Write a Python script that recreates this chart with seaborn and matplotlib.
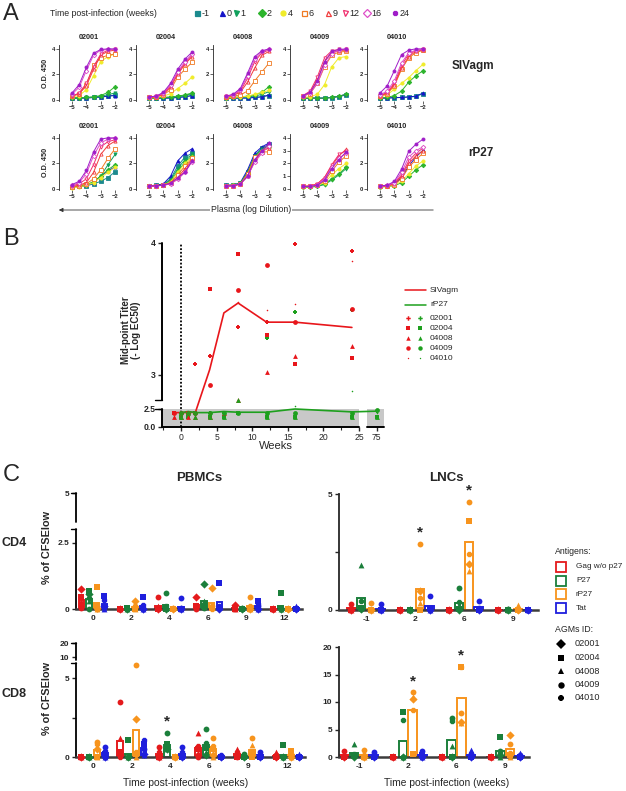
import numpy as np
import pandas as pd
import matplotlib.pyplot as plt
import seaborn as sns

sns.set_style('ticks')
plt.rcParams['font.family'] = ['Liberation Sans', 'DejaVu Sans']

W, H = 626, 791

# ---------------- Panel A data: O.D. 450 per plasma dilution ----------------
dilution = [-5, -4.5, -4, -3.5, -3, -2.5, -2]
animals = ['02001', '02004', '04008', '04009', '04010']
weeks_a = [-1, 0, 1, 2, 4, 6, 9, 12, 16, 24]

sivagm_02001 = {
    -1: [0.15, 0.15, 0.17, 0.2, 0.22, 0.3, 0.4],
    0: [0.15, 0.15, 0.15, 0.2, 0.25, 0.3, 0.35],
    1: [0.15, 0.16, 0.2, 0.22, 0.3, 0.42, 0.55],
    2: [0.15, 0.16, 0.2, 0.25, 0.35, 0.6, 1.05],
    4: [0.25, 0.35, 0.8, 1.9, 3.0, 3.4, 3.6],
    6: [0.3, 0.5, 1.2, 2.7, 3.3, 3.5, 3.6],
    9: [0.3, 0.5, 1.1, 2.4, 3.5, 3.8, 3.9],
    12: [0.3, 0.55, 1.3, 2.6, 3.6, 3.9, 3.95],
    16: [0.45, 1.0, 2.3, 3.5, 3.9, 3.95, 3.95],
    24: [0.55, 1.2, 2.55, 3.65, 3.95, 4.0, 4.0],
}
sivagm_02004 = {
    -1: [0.15, 0.15, 0.15, 0.17, 0.2, 0.27, 0.35],
    0: [0.15, 0.15, 0.15, 0.15, 0.2, 0.25, 0.35],
    1: [0.15, 0.15, 0.16, 0.2, 0.25, 0.35, 0.5],
    2: [0.15, 0.15, 0.2, 0.25, 0.3, 0.4, 0.55],
    4: [0.15, 0.2, 0.3, 0.5, 0.9, 1.3, 1.8],
    6: [0.2, 0.25, 0.4, 0.8, 1.8, 2.4, 2.95],
    9: [0.2, 0.25, 0.45, 1.0, 2.0, 2.8, 3.4],
    12: [0.2, 0.3, 0.5, 1.1, 2.1, 2.9, 3.5],
    16: [0.25, 0.3, 0.55, 1.2, 2.2, 3.0, 3.6],
    24: [0.25, 0.3, 0.6, 1.3, 2.4, 3.2, 3.75],
}
sivagm_04008 = {
    -1: [0.15, 0.15, 0.15, 0.17, 0.2, 0.25, 0.35],
    0: [0.15, 0.15, 0.15, 0.15, 0.2, 0.25, 0.4],
    1: [0.15, 0.15, 0.2, 0.25, 0.3, 0.45, 0.65],
    2: [0.15, 0.2, 0.25, 0.3, 0.4, 0.6, 1.05],
    4: [0.15, 0.2, 0.25, 0.3, 0.45, 0.6, 0.75],
    6: [0.2, 0.3, 0.4, 0.7, 1.5, 2.2, 2.9],
    9: [0.25, 0.35, 0.6, 1.4, 2.5, 3.5, 3.8],
    12: [0.3, 0.4, 0.7, 1.7, 3.0, 3.7, 3.9],
    16: [0.3, 0.4, 0.8, 1.9, 3.2, 3.8, 3.95],
    24: [0.3, 0.45, 0.9, 2.1, 3.4, 3.85, 4.0],
}
sivagm_04009 = {
    -1: [0.15, 0.15, 0.15, 0.15, 0.18, 0.25, 0.4],
    0: [0.15, 0.15, 0.15, 0.15, 0.2, 0.3, 0.45],
    2: [0.15, 0.15, 0.15, 0.15, 0.2, 0.3, 0.45],
    4: [0.2, 0.25, 0.45, 1.2, 2.6, 3.3, 3.4],
    6: [0.3, 0.5, 1.3, 2.6, 3.5, 3.75, 3.8],
    9: [0.3, 0.6, 1.6, 3.0, 3.7, 3.85, 3.9],
    12: [0.35, 0.7, 1.8, 3.3, 3.85, 3.95, 3.95],
    16: [0.3, 0.55, 1.3, 2.7, 3.6, 3.9, 3.95],
    24: [0.35, 0.6, 1.5, 3.0, 3.8, 3.95, 4.0],
}
sivagm_04010 = {
    -1: [0.15, 0.15, 0.17, 0.2, 0.22, 0.28, 0.5],
    0: [0.15, 0.15, 0.2, 0.2, 0.25, 0.3, 0.55],
    2: [0.15, 0.2, 0.35, 0.7, 1.4, 1.9, 2.3],
    4: [0.25, 0.4, 0.85, 1.3, 1.75, 2.3, 2.8],
    6: [0.3, 0.5, 1.1, 2.4, 3.3, 3.7, 3.9],
    9: [0.3, 0.55, 1.2, 2.5, 3.4, 3.8, 3.9],
    12: [0.35, 0.6, 1.3, 2.7, 3.6, 3.85, 3.95],
    16: [0.4, 0.7, 1.5, 2.9, 3.7, 3.9, 3.95],
    24: [0.55, 1.1, 2.3, 3.55, 3.9, 4.0, 4.0],
}

rp27_02001 = {
    -1: [0.15, 0.2, 0.25, 0.4, 0.6, 0.9, 1.35],
    0: [0.15, 0.2, 0.3, 0.5, 1.0, 1.4, 1.75],
    1: [0.15, 0.2, 0.3, 0.5, 1.0, 1.9, 2.7],
    2: [0.15, 0.2, 0.3, 0.6, 1.0, 1.5, 1.9],
    4: [0.1, 0.15, 0.3, 0.5, 0.9, 1.3, 1.7],
    6: [0.15, 0.25, 0.4, 0.8, 1.5, 2.4, 3.15],
    9: [0.2, 0.3, 0.5, 1.3, 2.7, 3.4, 3.75],
    12: [0.25, 0.4, 0.8, 1.9, 3.3, 3.7, 3.85],
    16: [0.3, 0.5, 1.2, 2.6, 3.6, 3.9, 4.0],
    24: [0.35, 0.6, 1.45, 2.9, 3.9, 4.0, 4.0],
}
rp27_02004 = {
    -1: [0.25, 0.3, 0.35, 0.8, 1.8, 2.5, 2.8],
    0: [0.25, 0.3, 0.4, 1.0, 2.2, 2.8, 3.15],
    1: [0.2, 0.25, 0.35, 0.7, 1.6, 2.3, 2.7],
    2: [0.2, 0.25, 0.3, 0.6, 1.4, 2.1, 2.6],
    4: [0.2, 0.25, 0.3, 0.55, 1.3, 2.0, 2.5],
    6: [0.2, 0.25, 0.3, 0.5, 1.1, 1.8, 2.4],
    9: [0.2, 0.25, 0.3, 0.45, 0.9, 1.6, 2.3],
    12: [0.2, 0.25, 0.3, 0.4, 0.8, 1.4, 2.2],
    16: [0.2, 0.25, 0.3, 0.4, 0.75, 1.3, 2.15],
    24: [0.25, 0.25, 0.3, 0.45, 0.9, 1.3, 2.2],
}
rp27_04008 = {
    -1: [0.3, 0.3, 0.45, 1.3, 2.6, 3.2, 3.5],
    0: [0.3, 0.3, 0.5, 1.5, 2.8, 3.3, 3.6],
    1: [0.25, 0.3, 0.45, 1.3, 2.6, 3.1, 3.4],
    2: [0.25, 0.3, 0.45, 1.2, 2.5, 3.0, 3.3],
    4: [0.25, 0.3, 0.4, 1.1, 2.4, 3.0, 3.3],
    6: [0.2, 0.25, 0.4, 1.2, 2.5, 2.9, 2.9],
    9: [0.25, 0.25, 0.4, 1.0, 2.2, 3.0, 3.2],
    12: [0.25, 0.25, 0.4, 1.0, 2.2, 2.9, 3.3],
    16: [0.25, 0.25, 0.4, 1.0, 2.1, 2.8, 3.4],
    24: [0.25, 0.25, 0.4, 1.0, 2.3, 3.0, 3.6],
}
rp27_04009 = {
    1: [0.15, 0.15, 0.2, 0.35, 0.7, 1.1, 1.6],
    2: [0.15, 0.15, 0.25, 0.4, 0.8, 1.2, 1.7],
    4: [0.15, 0.2, 0.3, 0.5, 1.1, 1.6, 2.0],
    6: [0.2, 0.2, 0.3, 0.6, 1.4, 2.1, 2.6],
    9: [0.2, 0.25, 0.4, 0.9, 1.8, 2.6, 3.1],
    12: [0.2, 0.25, 0.4, 0.9, 1.9, 2.7, 3.0],
    16: [0.2, 0.2, 0.35, 0.8, 1.7, 2.4, 2.8],
    24: [0.2, 0.2, 0.3, 0.7, 1.6, 2.3, 2.9],
}
rp27_04010 = {
    0: [0.2, 0.25, 0.35, 0.9, 1.8, 2.5, 3.05],
    2: [0.15, 0.2, 0.25, 0.5, 1.0, 1.5, 1.9],
    4: [0.15, 0.2, 0.3, 0.6, 1.2, 1.8, 2.2],
    6: [0.2, 0.25, 0.35, 0.8, 1.7, 2.3, 2.8],
    9: [0.2, 0.25, 0.4, 1.0, 2.0, 2.6, 3.0],
    12: [0.2, 0.25, 0.45, 1.1, 2.2, 2.8, 3.2],
    16: [0.2, 0.3, 0.5, 1.3, 2.5, 3.0, 3.3],
    24: [0.25, 0.3, 0.6, 1.55, 2.95, 3.5, 3.9],
}

# ---------------- Panel B data: mid-point titer ----------------
weeks_b = [-1, 0, 1, 2, 4, 6, 8, 12, 16, 24, 75]
mean_sivagm = [2.0, 2.0, 2.0, 2.05, 3.04, 3.47, 3.545, 3.40, 3.40, 3.36, np.nan]
mean_rp27 = [np.nan, 2.0, 2.15, 2.0, 2.0, 2.15, 2.05, 2.05, 2.5, 2.1, 2.2]
titer_sivagm = {
    '02001': [2.0, 2.0, 1.4, 3.08, 3.14, np.nan, 3.36, 3.40, 3.99, 3.94, np.nan],
    '02004': [2.0, 1.4, 2.0, 2.0, 3.65, np.nan, 3.92, 3.30, 3.08, 3.13, np.nan],
    '04008': [1.4, 1.4, 1.4, 1.4, 1.4, 1.9, 2.80, 3.02, 3.14, 3.22, np.nan],
    '04009': [2.0, 2.0, 2.0, 2.0, 2.92, np.nan, 3.64, 3.83, 3.40, 3.50, np.nan],
    '04010': [1.4, 2.0, 2.0, 2.0, 2.0, np.nan, 3.55, 3.49, 3.54, 3.86, np.nan],
}
titer_rp27 = {
    '02001': [np.nan, 2.0, 2.0, 2.0, 2.0, 2.0, 2.0, 3.28, 3.48, 3.49, 2.2],
    '02004': [np.nan, 1.4, 1.4, 2.0, 1.4, 1.4, 2.0, 1.4, 1.4, 1.4, 1.4],
    '04008': [np.nan, 1.4, 2.0, 1.4, 1.4, 1.4, 2.80, 1.4, 1.4, 1.4, 1.4],
    '04009': [np.nan, 2.0, 2.0, 2.0, 2.0, 2.0, 2.0, 2.0, 2.0, 2.0, 2.3],
    '04010': [np.nan, 2.0, 2.0, 2.0, 2.0, 2.0, 2.0, 2.0, 2.6, 2.88, 2.0],
}

# ---------------- Panel C data: % of CFSElow (values ordered by animal) ----------------
antigens = ['Gag w/o p27', 'P27', 'rP27', 'Tat']
pbmc_weeks = ['0', '2', '4', '6', '9', '12']
lnc_weeks = ['-1', '2', '6', '9']

pbmc_cd4 = {
    'Gag w/o p27': [[0.75, 0.45, 0.3, 0.05, 0.1], [0, 0, 0, 0, 0], [0, 0, 0.1, 0.45, 0.05],
                    [0.45, 0.1, 0.15, 0, 0.05], [0.15, 0, 0, 0.1, 0], [0, 0, 0, 0, 0]],
    'P27': [[0.55, 0.7, 0.3, 0, 0.4], [0, 0.05, 0, 0, 0], [0, 0, 0.05, 0.6, 0.1],
            [0.95, 0.1, 0.3, 0.05, 0.1], [0, 0, 0.05, 0, 0.05], [0, 0.6, 0, 0, 0.05]],
    'rP27': [[0.05, 0.85, 0, 0, 0.15], [0.3, 0, 0, 0.1, 0.05], [0, 0, 0.05, 0, 0.05],
             [0.8, 0.05, 0.1, 0.1, 0], [0, 0, 0, 0.45, 0.1], [0, 0, 0.05, 0, 0]],
    'Tat': [[0.1, 0.5, 0, 0.05, 0.35], [0, 0.45, 0, 0.05, 0.15], [0, 0, 0, 0.4, 0.05],
            [0, 1.0, 0.1, 0.05, 0.1], [0, 0.3, 0, 0.1, 0.2], [0, 0, 0.1, 0, 0.05]],
}
lnc_cd4 = {
    'Gag w/o p27': [[0, 0, 0, 0.25, 0.1], [0, 0, 0, 0, 0], [0, 0, 0, 0, 0], [0, 0, 0, 0, 0]],
    'P27': [[0.05, 0.1, 1.94, 0.05, 0.4], [0, 0, 0, 0, 0], [0, 0.05, 0.2, 0.95, 0.35],
            [0, 0, 0, 0.05, 0]],
    'rP27': [[0, 0, 0, 0.3, 0], [0.8, 0, 0.3, 2.84, 0.5], [2.0, 3.84, 1.7, 4.67, 2.4],
             [0, 0, 0.2, 0, 0]],
    'Tat': [[0, 0, 0, 0.25, 0.05], [0, 0.1, 0, 0.62, 0.05], [0, 0, 0.1, 0.4, 0.1],
            [0, 0, 0, 0, 0]],
}
pbmc_cd8 = {
    'Gag w/o p27': [[0, 0, 0, 0, 0], [0.1, 0.3, 1.23, 3.45, 0], [0, 0, 0, 0.65, 0.3],
                    [0.1, 0.5, 1.55, 0, 0.7], [0.1, 0, 0.5, 0, 0.3], [0, 0, 0.3, 0.1, 0]],
    'P27': [[0, 0, 0, 0, 0], [0, 1.06, 0, 0, 0], [0.5, 0.8, 0.5, 1.55, 0.6],
            [0.1, 0.6, 0.3, 1.8, 0.9], [0, 0, 0.1, 0.2, 0], [0, 0.74, 0, 0, 0]],
    'rP27': [[0.5, 0, 0, 0.96, 0.85], [2.38, 0.2, 0, 5.8, 0.3], [0, 0, 0, 0, 0],
             [0.1, 0.5, 0, 1.2, 0.7], [0.1, 0, 0.75, 1.2, 0.3], [0, 0.4, 0, 0.2, 0.1]],
    'Tat': [[0, 0.2, 0, 0.62, 0.4], [0.2, 0.8, 0.1, 0.5, 1.1], [0, 0, 0.1, 0.65, 0.3],
            [0, 0, 0.1, 0, 0.1], [0, 0, 0.1, 0.3, 0.1], [0, 0, 0.2, 0, 0]],
}
lnc_cd8 = {
    'Gag w/o p27': [[0, 0, 0.3, 1.09, 0], [0, 0, 0, 0, 0], [0, 0, 0, 0, 0], [0, 0, 0, 0, 0]],
    'P27': [[0, 0.2, 2.42, 0.4, 0.6], [0, 8.24, 0, 0, 6.7], [0, 0, 2.0, 7.09, 6.5],
            [0.3, 3.7, 0, 1.1, 0.6]],
    'rP27': [[0, 0, 0, 1.2, 0.3], [10.6, 0.5, 10.9, 11.76, 8.6], [6.3, 16.4, 6.2, 8.06, 16.3],
             [3.94, 0.3, 0, 2.3, 0.8]],
    'Tat': [[0, 0, 0.2, 1.0, 0.5], [0, 0.3, 0, 1.1, 0.2], [0, 0, 1.3, 0.5, 0.3],
            [0, 0, 0.8, 0.3, 0]],
}
stars_pbmc_cd8 = [('4', 'P27')]
stars_lnc_cd4 = [('2', 'rP27'), ('6', 'rP27')]
stars_lnc_cd8 = [('2', 'rP27'), ('6', 'rP27')]

# ---------------- styles ----------------
week_colors = {-1: '#1c8a8e', 0: '#1515c8', 1: '#10a05c', 2: '#2cb42c', 4: '#f0ec2a',
               6: '#f07a22', 9: '#f03c3c', 12: '#f02c6c', 16: '#de4ec8', 24: '#a01ec8'}
week_markers = {-1: 's', 0: '^', 1: 'v', 2: 'D', 4: 'o', 6: 's', 9: '^', 12: 'v', 16: 'D', 24: '8'}
open_weeks = [6, 9, 12, 16]
red_b, green_b = '#e8161b', '#1ea01e'
b_markers = {'02001': 'P', '02004': 's', '04008': '^', '04009': 'o', '04010': '.'}
ag_colors = {'Gag w/o p27': '#e41a1c', 'P27': '#1b7f3b', 'rP27': '#f7941d', 'Tat': '#1f1fdd'}
c_markers = {'02001': 'D', '02004': 's', '04008': '^', '04009': 'o', '04010': '8'}


def px_axes(fig, x0, y0, x1, y1):
    return fig.add_axes([x0 / W, 1 - y1 / H, (x1 - x0) / W, (y1 - y0) / H])


def piecewise(xp, fp):
    def make(a, b):
        a, b = np.asarray(a, float), np.asarray(b, float)
        s0 = (b[1] - b[0]) / (a[1] - a[0])
        s1 = (b[-1] - b[-2]) / (a[-1] - a[-2])

        def f(v):
            v = np.asarray(v, float)
            out = np.interp(v, a, b)
            out = np.where(v < a[0], b[0] + (v - a[0]) * s0, out)
            out = np.where(v > a[-1], b[-1] + (v - a[-1]) * s1, out)
            return out
        return f
    return make(xp, fp), make(fp, xp)


fig = plt.figure(figsize=(W / 100, H / 100), dpi=100)

# ---------------- Panel A ----------------
rows_a = [
    ('SIVagm', [sivagm_02001, sivagm_02004, sivagm_04008, sivagm_04009, sivagm_04010], 45, 101.3),
    ('rP27', [rp27_02001, rp27_02004, rp27_04008, rp27_04009, rp27_04010], 134, 190.3),
]
for r, (antigen, panels, top, bottom) in enumerate(rows_a):
    for i, (animal, curves) in enumerate(zip(animals, panels)):
        x0 = 59 + 77 * i
        ax = px_axes(fig, x0, top, x0 + 59, bottom)
        for wk in weeks_a:
            if wk not in curves:
                continue
            c = week_colors[wk]
            sns.lineplot(x=dilution, y=curves[wk], ax=ax, color=c, lw=0.7, errorbar=None,
                         marker=week_markers[wk], ms=2.3, mec=c, mew=0.6,
                         mfc='white' if wk in open_weeks else c, legend=False)
        ax.set_xlim(-5.9, -1.8)
        ax.set_ylim(-0.1, 4.3)
        ax.set_xticks([-5, -4, -3, -2])
        if antigen == 'rP27' and animal == '04009':
            ax.set_yticks([0, 1, 2, 3, 4])
        else:
            ax.set_yticks([0, 2, 4])
        ax.tick_params(labelsize=4.2, length=2, width=0.5, pad=1)
        for lab in ax.get_xticklabels() + ax.get_yticklabels():
            lab.set_fontweight('bold')
        sns.despine(ax=ax)
        ax.spines['bottom'].set_visible(False)
        ax.spines['left'].set_linewidth(0.6)
        ax.set_title(animal, fontsize=5.2, fontweight='bold', pad=4)
        ax.set_xlabel('')
        ax.set_ylabel('O.D. 450' if i == 0 else '', fontsize=5.2, fontweight='bold', labelpad=2)

# ---------------- Panel B ----------------
axb = px_axes(fig, 162, 243, 384, 427)
xb_seg = ([-2.7, 25], [73, 76.5])
for seg in xb_seg:
    axb.fill_between(seg, 0, 2.5, color='#c8c8c8', lw=0, zorder=0)
axb.vlines(0, 0, 4, colors='black', linestyles=(0, (1, 1)), lw=1.3, zorder=1)
sns.lineplot(x=weeks_b, y=mean_sivagm, ax=axb, color=red_b, lw=1.2, errorbar=None, zorder=2)
sns.lineplot(x=weeks_b, y=mean_rp27, ax=axb, color=green_b, lw=1.2, errorbar=None, zorder=2)
for animal in animals:
    size = 5 if animal == '04010' else 12
    for values, c in ((titer_sivagm[animal], red_b), (titer_rp27[animal], green_b)):
        sns.scatterplot(x=weeks_b, y=values, ax=axb, marker=b_markers[animal], color=c,
                        s=size, linewidth=0, clip_on=False, zorder=3, legend=False)
fx, ix = piecewise([-2.7, 25, 73, 76.5], [0, 197, 205, 222])
fy, iy = piecewise([0, 2.5, 2.81, 4.0], [0, 18, 27, 184])
axb.set_xscale('function', functions=(fx, ix))
axb.set_yscale('function', functions=(fy, iy))
axb.set_xlim(-2.7, 76.5)
axb.set_ylim(0, 4.0)
axb.set_xticks([0, 5, 10, 15, 20, 25, 75])
axb.set_xticks([-2.5, 2.5, 7.5, 12.5, 17.5, 22.5], minor=True)
axb.set_yticks([0, 2.5, 3, 4])
axb.set_yticklabels(['0.0', '2.5', '3', '4'])
axb.yaxis.set_minor_locator(plt.NullLocator())
for s in axb.spines.values():
    s.set_visible(False)
ytr, xtr = axb.get_yaxis_transform(), axb.get_xaxis_transform()
for lo, hi in ((0, 2.5), (2.81, 4.0)):
    axb.plot([0, 0], [lo, hi], color='black', lw=1.4, transform=ytr, clip_on=False)
    axb.plot([-0.03, 0], [hi, hi] if hi < 4 else [lo, lo], color='black', lw=1.0,
             transform=ytr, clip_on=False)
for seg in xb_seg:
    axb.plot(seg, [0, 0], color='black', lw=1.4, transform=xtr, clip_on=False)
axb.tick_params(axis='both', labelsize=6.2, length=3, width=1, pad=1.5)
axb.tick_params(axis='x', which='minor', length=2, width=0.8)
for lab in axb.get_yticklabels():
    lab.set_fontweight('bold')
axb.set_xlabel('')
axb.set_ylabel('')

# ---------------- Panel C ----------------


def long_df(groups, weeks):
    rows = []
    for ag in antigens:
        for wk, vals in zip(weeks, groups[ag]):
            for animal, v in zip(animals, vals):
                rows.append({'week': wk, 'antigen': ag, 'animal': animal, 'value': v})
    return pd.DataFrame(rows)


def draw_c(ax, groups, weeks, stars, gap):
    df = long_df(groups, weeks)
    sns.barplot(data=df, x='week', y='value', hue='antigen', order=weeks, hue_order=antigens,
                palette=ag_colors, errorbar=None, fill=False, width=0.8, gap=gap,
                linewidth=1.4, legend=False, ax=ax)
    for animal in animals:
        sns.stripplot(data=df[df['animal'] == animal], x='week', y='value', hue='antigen',
                      order=weeks, hue_order=antigens, palette=ag_colors, dodge=True,
                      jitter=False, marker=c_markers[animal], size=4.2, linewidth=0,
                      legend=False, ax=ax, clip_on=False, zorder=3)
    for wk, ag in stars:
        sub = df[(df['week'] == wk) & (df['antigen'] == ag)]
        xpos = weeks.index(wk) + (antigens.index(ag) - 1.5) * 0.2
        ax.annotate('*', (xpos, sub['value'].max()), xytext=(0, 3), textcoords='offset points',
                    ha='center', va='bottom', fontsize=11, fontweight='bold')
    sns.despine(ax=ax)
    ax.spines['bottom'].set_color('#3c3c3c')
    ax.spines['bottom'].set_linewidth(1.8)
    ax.spines['left'].set_linewidth(1.3)
    ax.tick_params(labelsize=6, length=3, width=1, pad=2)
    ax.tick_params(axis='x', length=0, pad=4)
    ax.set_xlabel('')
    ax.set_ylabel('')


def broken_left(ax, segments):
    ax.spines['left'].set_visible(False)
    tr = ax.get_yaxis_transform()
    for lo, hi in segments:
        ax.plot([0, 0], [lo, hi], color='black', lw=1.3, transform=tr, clip_on=False)
        ax.plot([-0.02, 0], [hi, hi], color='black', lw=1.0, transform=tr, clip_on=False)


ax1 = px_axes(fig, 76, 493, 302, 609)
draw_c(ax1, pbmc_cd4, pbmc_weeks, [], 0.3)
f1, i1 = piecewise([0, 3.03, 3.3, 5], [0, 80, 87, 116])
ax1.set_yscale('function', functions=(f1, i1))
ax1.set_ylim(0, 5)
ax1.set_yticks([0, 2.5, 5])
ax1.set_yticklabels(['0', '2.5', '5'])
ax1.set_xlim(-0.44, 5.46)
broken_left(ax1, [(0, 3.03), (3.3, 5)])

ax2 = px_axes(fig, 339, 494, 538, 610)
draw_c(ax2, lnc_cd4, lnc_weeks, stars_lnc_cd4, 0.12)
ax2.set_ylim(0, 5)
ax2.set_yticks([0, 2.5, 5])
ax2.set_yticklabels(['0', '', '5'])
ax2.set_xlim(-0.55, 3.51)

ax3 = px_axes(fig, 76, 643, 305, 757)
draw_c(ax3, pbmc_cd8, pbmc_weeks, stars_pbmc_cd8, 0.25)
f3, i3 = piecewise([0, 5.95, 8, 20], [0, 94, 97, 114])
ax3.set_yscale('function', functions=(f3, i3))
ax3.set_ylim(0, 20)
ax3.set_yticks([0, 2.5, 5, 10, 20])
ax3.set_yticklabels(['0', '', '5', '10', '20'])
ax3.set_xlim(-0.44, 5.46)
broken_left(ax3, [(0, 5.95), (8, 20)])

ax4 = px_axes(fig, 339, 647, 529, 757)
draw_c(ax4, lnc_cd8, lnc_weeks, stars_lnc_cd8, 0.12)
ax4.set_ylim(0, 20)
ax4.set_yticks([0, 5, 10, 15, 20])
ax4.set_xlim(-0.41, 3.49)

for ax in (ax1, ax2, ax3, ax4):
    ax.yaxis.set_minor_locator(plt.NullLocator())
    for lab in ax.get_xticklabels() + ax.get_yticklabels():
        lab.set_fontweight('bold')

# ---------------- overlay: panel letters, legends, labels ----------------
ov = fig.add_axes([0, 0, 1, 1])
ov.set_xlim(0, W)
ov.set_ylim(H, 0)
ov.axis('off')
ov.patch.set_alpha(0)

for letter, y in (('A', 14), ('B', 239), ('C', 475)):
    ov.text(3, y, letter, fontsize=17, va='center', ha='left')

# Panel A legend row
ov.text(50, 13, 'Time post-infection (weeks)', fontsize=6.3, va='center')
legend_x = [197, 222, 236, 262, 283, 304, 328, 345, 367, 395]
for x, wk in zip(legend_x, weeks_a):
    c = week_colors[wk]
    ov.plot(x, 13, marker=week_markers[wk], ms=3.6, color=c, mec=c, mew=0.9,
            mfc='white' if wk in open_weeks else c)
    ov.text(x + 4.5, 13, str(wk), fontsize=6.5, va='center')

ov.text(452, 66, 'SIVagm', fontsize=8.5, fontweight='bold', va='center')
ov.text(468, 153, 'rP27', fontsize=8.5, fontweight='bold', va='center')
ov.annotate('', xy=(56, 210), xytext=(436, 210),
            arrowprops=dict(arrowstyle='-|>', lw=0.6, color='#333333', mutation_scale=6))
ov.text(251, 210, 'Plasma (log Dilution)', fontsize=6.2, ha='center', va='center',
        bbox=dict(facecolor='white', edgecolor='none', pad=0.5))

# Panel B labels and legend
ov.text(131, 330, 'Mid-point Titer\n(- Log EC50)', fontsize=7, fontweight='bold',
        rotation=90, ha='center', va='center', linespacing=1.1)
ov.text(276, 446, 'Weeks', fontsize=8, ha='center', va='center')
ov.plot([405, 426], [290, 290], color=red_b, lw=1.1)
ov.text(430, 290, 'SIVagm', fontsize=6, va='center')
ov.plot([405, 426], [305, 305], color=green_b, lw=1.1)
ov.text(430, 305, 'rP27', fontsize=6, va='center')
for k, animal in enumerate(animals):
    y = 318 + 10 * k
    ms = 2.0 if animal == '04010' else 3.2
    ov.plot(408, y, marker=b_markers[animal], color=red_b, ms=ms, mew=0)
    ov.plot(420, y, marker=b_markers[animal], color=green_b, ms=ms, mew=0)
    ov.text(430, y, animal, fontsize=6, va='center')

# Panel C labels and legends
ov.text(199, 478, 'PBMCs', fontsize=9.5, fontweight='bold', ha='center', va='center')
ov.text(446, 478, 'LNCs', fontsize=9.5, fontweight='bold', ha='center', va='center')
ov.text(2, 543, 'CD4', fontsize=9, fontweight='bold', va='center')
ov.text(2, 694, 'CD8', fontsize=9, fontweight='bold', va='center')
for y in (547, 698):
    ov.text(47, y, '% of CFSElow', fontsize=7.8, fontweight='bold', rotation=90,
            ha='center', va='center')
for x in (186, 447):
    ov.text(x, 783, 'Time post-infection (weeks)', fontsize=7.4, ha='center', va='center')

ov.text(555, 552, 'Antigens:', fontsize=6.3, va='center')
for k, ag in enumerate(antigens):
    y = 567 + 13.7 * k
    ov.plot(561, y, marker='s', ms=7, mfc='white', mec=ag_colors[ag], mew=1.3)
    ov.text(576, y, ag, fontsize=5.9, va='center')
ov.text(555, 630, 'AGMs ID:', fontsize=6.3, va='center')
for k, animal in enumerate(animals):
    y = 644 + 13.5 * k
    ov.plot(561, y, marker=c_markers[animal], ms=4.6, color='black', mew=0)
    ov.text(575, y, animal, fontsize=6.6, va='center')

fig.savefig('out.png', dpi=100)
